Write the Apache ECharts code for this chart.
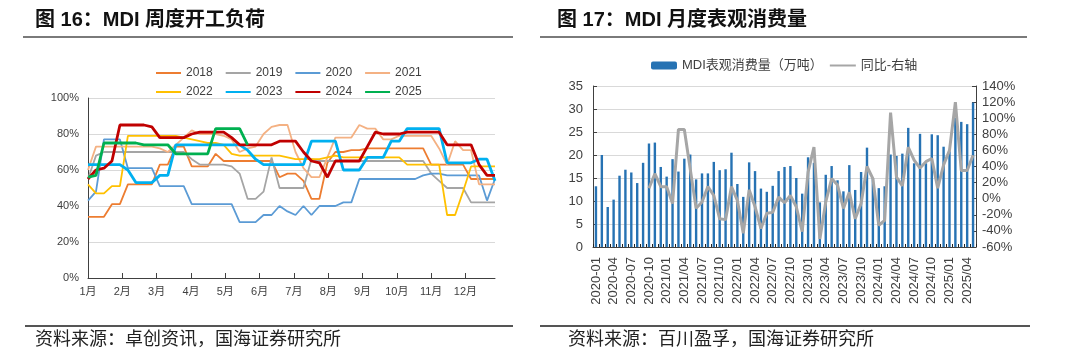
<!DOCTYPE html>
<html><head><meta charset="utf-8">
<script src="https://cdn.jsdelivr.net/npm/echarts@6/dist/echarts.min.js"></script>
<style>html,body{margin:0;padding:0;background:#fff}#c{width:1080px;height:361px}</style>
</head><body><div id="c"></div>
<script>
// ---------- Left chart: MDI weekly operating rate (%), 52 weeks ----------
const monthLabels = ['1月','2月','3月','4月','5月','6月','7月','8月','9月','10月','11月','12月'];
const yearNames = ['2018','2019','2020','2021','2022','2023','2024','2025'];
const s2018 = [34,34,34,41,41,52,52,52,52,63,63,73,73,62,62,62,69,65,65,65,65,65,65,65,56,58,58,54,44,44,64,70,70,71,71,72,72,72,72,72,72,72,72,63,63,63,63,63,55,55,55,55];
const s2019 = [55,68,70,70,70,70,70,70,70,70,70,70,70,66,63,63,63,63,62,58,44,44,48,67,50,50,50,50,66,65,65,65,65,65,65,65,65,65,65,65,65,65,65,58,54,50,50,50,42,42,42,42];
const s2020 = [43,48,77,77,77,61,61,61,61,51,51,51,51,41,41,41,41,41,41,31,31,31,35,35,40,37,35,40,35,40,40,40,42,42,55,55,55,55,55,55,55,55,57,58,58,57,57,57,57,57,43,55];
const s2021 = [60,73,73,73,73,73,73,73,73,72,70,74,78,82,80,80,80,79,77,70,72,73,80,84,85,85,70,61,56,56,67,78,78,78,85,83,83,77,77,79,79,79,79,79,72,63,76,71,71,52,52,52];
const s2022 = [52,47,47,51,51,79,79,79,79,79,79,79,78,77,76,75,75,74,69,68,68,68,68,68,68,67,66,66,66,66,67,68,67,67,67,67,67,67,67,67,63,63,63,63,63,35,35,48,62,62,62,62];
const s2023 = [63,63,63,63,63,60,53,53,53,57,57,74,74,74,74,74,74,74,74,74,71,66,63,63,63,63,63,63,76,76,76,76,60,60,60,67,67,67,76,76,83,83,83,83,83,64,64,64,64,66,66,54];
const s2024 = [55,60,61,65,85,85,85,85,84,78,78,78,78,80,81,81,81,81,78,74,74,74,74,74,76,76,76,70,65,64,56,65,65,65,65,73,81,80,80,80,81,81,81,81,81,74,74,74,74,63,57,57];
const s2025 = [56,57,75,75,75,75,75,74,74,74,74,69,69,69,69,69,83,83,83,83,74];

// ---------- Right chart: MDI monthly apparent consumption ----------
const months = ['2020-01','2020-02','2020-03','2020-04','2020-05','2020-06','2020-07','2020-08','2020-09','2020-10','2020-11','2020-12',
'2021/01','2021/02','2021/03','2021/04','2021/05','2021/06','2021/07','2021/08','2021/09','2021/10','2021/11','2021/12',
'2022/01','2022/02','2022/03','2022/04','2022/05','2022/06','2022/07','2022/08','2022/09','2022/10','2022/11','2022/12',
'2023/01','2023/02','2023/03','2023/04','2023/05','2023/06','2023/07','2023/08','2023/09','2023/10','2023/11','2023/12',
'2024/01','2024/02','2024/03','2024/04','2024/05','2024/06','2024/07','2024/08','2024/09','2024/10','2024/11','2024/12',
'2025/01','2025/02','2025/03','2025/04','2025/05'];
const consumption = [13.2,20.0,8.7,10.3,15.5,16.8,16.2,13.9,18.3,22.5,22.7,17.4,15.3,19.1,16.4,19.2,
20.1,14.7,16.0,16.0,18.5,16.7,16.9,20.5,13.7,10.9,18.4,16.5,12.7,12.0,13.3,16.5,
17.4,17.6,15.0,11.6,19.5,18.3,9.7,15.7,17.6,14.5,12.1,17.8,12.4,16.3,21.6,15.0,12.8,
13.2,20.1,19.8,20.3,25.9,18.2,24.6,18.2,24.5,24.3,21.8,20.8,28.1,27.2,26.7,31.4];
const yoy = [null,null,null,null,null,null,null,null,null,13,31,15,15,-6,86,86,
37,-12,-4,15,4,-25,-26,15,-2,-43,11,-10,-37,-18,-17,2,
-5,4,-10,-41,33,64,-50,-4,25,17,-12,8,-25,-6,40,25,-33,
-27,107,27,16,64,48,38,46,50,13,42,60,120,35,35,54];

const leftColors = ['#ed7d31','#a5a5a5','#5b9bd5','#f4b183','#ffc000','#00b0f0','#c00000','#00b050'];
const leftWidths = [1.8,1.8,1.8,1.8,1.8,2.8,2.8,2.8];
const leftData = [s2018,s2019,s2020,s2021,s2022,s2023,s2024,s2025];

const WEEKS_PER_MONTH = 4.3;
const axisColor = '#404040';
const gridColor = '#d9d9d9';
const txt = '#404040';
const fam = "'Liberation Sans','Noto Sans CJK SC',sans-serif";

const leftSeries = leftData.map((arr, k) => ({
  name: yearNames[k], type: 'line', xAxisIndex: 0, yAxisIndex: 0,
  data: arr.map((v, i) => [i, v]),
  symbol: 'none', z: 2 + k,
  lineStyle: {color: leftColors[k], width: leftWidths[k]},
  itemStyle: {color: leftColors[k]}
}));

const chart = echarts.init(document.getElementById('c'), null, {renderer: 'canvas'});
chart.setOption({
  animation: false,
  textStyle: {fontFamily: fam},
  grid: [
    {left: 88, top: 98, width: 407, height: 180},
    {left: 593, top: 86, width: 383, height: 161}
  ],
  legend: [
    {data: yearNames.slice(0,4), left: 150, top: 62, itemWidth: 25, itemHeight: 14, itemGap: 12,
     itemStyle: {opacity: 0},
     textStyle: {fontSize: 12, color: txt, fontFamily: fam}},
    {data: yearNames.slice(4), left: 150, top: 81, itemWidth: 25, itemHeight: 14, itemGap: 12,
     itemStyle: {opacity: 0},
     textStyle: {fontSize: 12, color: txt, fontFamily: fam}},
    {data: ['MDI表观消费量（万吨）', {name: '同比-右轴', itemStyle: {opacity: 0}}], left: 646, top: 54, itemWidth: 26, itemHeight: 8, itemGap: 6,
     textStyle: {fontSize: 13, color: txt, fontFamily: fam}}
  ],
  xAxis: [
    {type: 'value', gridIndex: 0, min: 0, max: 51, interval: WEEKS_PER_MONTH,
     axisLine: {lineStyle: {color: axisColor}},
     axisTick: {show: true, inside: true, length: 5, lineStyle: {color: axisColor}},
     axisLabel: {color: txt, fontSize: 11, margin: 8, showMaxLabel: false,
       formatter: v => monthLabels[Math.round(v / WEEKS_PER_MONTH)] || ''},
     splitLine: {show: false}},
    {type: 'category', gridIndex: 1, data: months, boundaryGap: true,
     axisLine: {lineStyle: {color: axisColor}},
     axisTick: {show: true, inside: true, length: 3, interval: 0, lineStyle: {color: '#222'}},
     axisLabel: {color: txt, fontSize: 13, rotate: 90, interval: 2, margin: 10}}
  ],
  yAxis: [
    {type: 'value', gridIndex: 0, min: 0, max: 100, interval: 20,
     axisLine: {show: true, lineStyle: {color: axisColor}},
     axisTick: {show: false},
     axisLabel: {color: txt, fontSize: 11, formatter: '{value}%', margin: 9},
     splitLine: {lineStyle: {color: gridColor}}},
    {type: 'value', gridIndex: 1, min: 0, max: 35, interval: 5,
     axisLine: {show: true, lineStyle: {color: axisColor}},
     axisTick: {show: true, inside: true, length: 4, lineStyle: {color: axisColor}},
     axisLabel: {color: txt, fontSize: 13, margin: 10},
     splitLine: {lineStyle: {color: gridColor}}},
    {type: 'value', gridIndex: 1, position: 'right', min: -60, max: 140, interval: 20,
     axisLine: {show: true, lineStyle: {color: axisColor}},
     axisTick: {show: true, inside: true, length: 4, lineStyle: {color: axisColor}},
     axisLabel: {color: txt, fontSize: 13, formatter: '{value}%', margin: 6},
     splitLine: {show: false}}
  ],
  series: leftSeries.concat([
    {name: 'MDI表观消费量（万吨）', type: 'bar', xAxisIndex: 1, yAxisIndex: 1,
     data: consumption, barWidth: 2.4, itemStyle: {color: '#2672b3'}},
    {name: '同比-右轴', type: 'line', xAxisIndex: 1, yAxisIndex: 2,
     data: yoy, symbol: 'none', connectNulls: false, z: 5,
     lineStyle: {color: '#a6a6a6', width: 3}, itemStyle: {color: '#a6a6a6'}}
  ]),
  graphic: [
    {type: 'text', left: 35, top: 10, style: {text: '图 16：MDI 周度开工负荷', font: "bold 20px 'Liberation Sans','Noto Sans CJK SC'", fill: '#111'}},
    {type: 'text', left: 557, top: 10, style: {text: '图 17：MDI 月度表观消费量', font: "bold 20px 'Liberation Sans','Noto Sans CJK SC'", fill: '#111'}},
    {type: 'line', shape: {x1: 23, y1: 37, x2: 513, y2: 37}, style: {stroke: '#7a7a7a', lineWidth: 2}},
    {type: 'line', shape: {x1: 540, y1: 37, x2: 1027, y2: 37}, style: {stroke: '#7a7a7a', lineWidth: 2}},
    {type: 'line', shape: {x1: 25, y1: 326, x2: 513, y2: 326}, style: {stroke: '#555', lineWidth: 2}},
    {type: 'line', shape: {x1: 540, y1: 326, x2: 1030, y2: 326}, style: {stroke: '#555', lineWidth: 2}},
    {type: 'text', left: 35, top: 329, style: {text: '资料来源：卓创资讯，国海证券研究所', font: "18px 'Noto Sans CJK SC'", fill: '#222'}},
    {type: 'text', left: 568, top: 329, style: {text: '资料来源：百川盈孚，国海证券研究所', font: "18px 'Noto Sans CJK SC'", fill: '#222'}}
  ]
});
</script></body></html>
